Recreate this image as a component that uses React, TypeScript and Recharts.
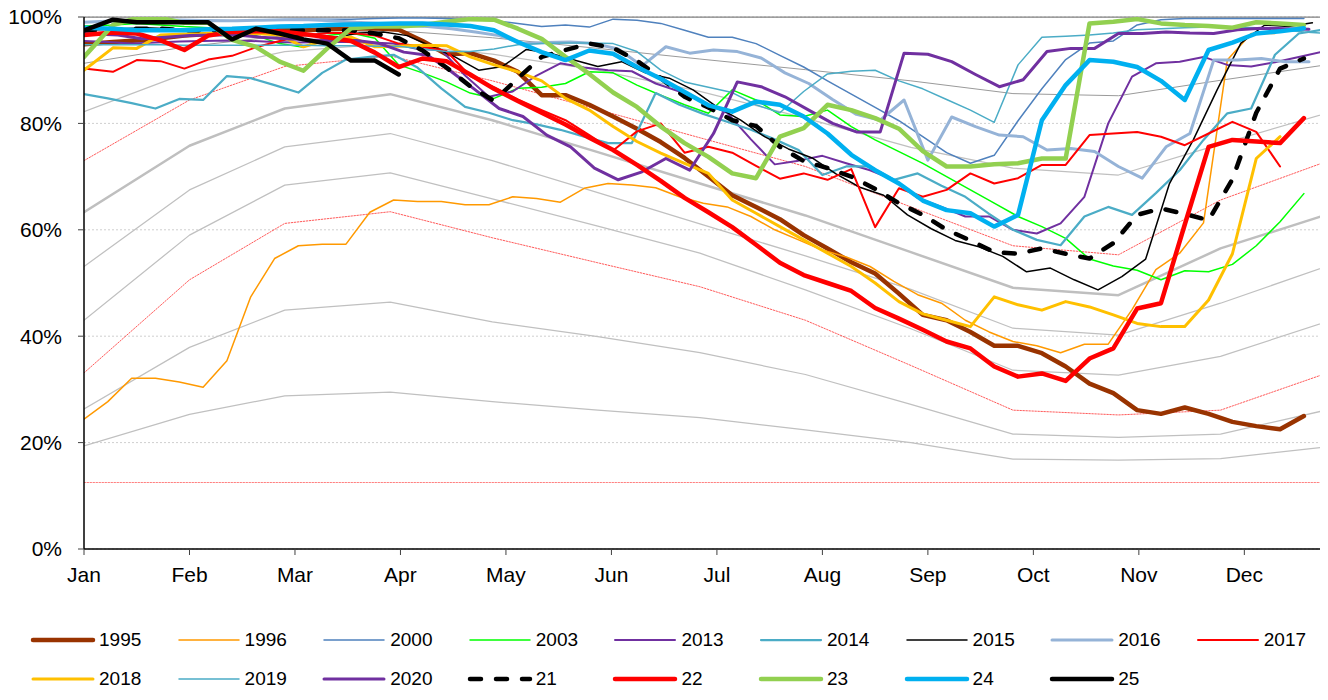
import React from 'react';
import { LineChart, Line, XAxis, YAxis, CartesianGrid, ReferenceLine } from 'recharts';

const FONT = "'Liberation Sans', Arial, sans-serif";

const monthLabels = ['Jan', 'Feb', 'Mar', 'Apr', 'May', 'Jun', 'Jul', 'Aug', 'Sep', 'Oct', 'Nov', 'Dec'];
const monthTickDays = [0, 31, 62, 93, 124, 155, 186, 217, 248, 279, 310, 341];
const yTicks = [0, 20, 40, 60, 80, 100];

// monthly statistics (grey and red dotted bands)
const statDays = [0, 31, 59, 90, 120, 151, 181, 212, 243, 273, 304, 334, 365];
const statA = [91.3, 94.5, 96.5, 97.5, 96.1, 94.1, 92.1, 90.1, 88.0, 85.6, 85.2, 88.1, 91.0];
const statB = [82.2, 89.7, 93.5, 95.0, 93.0, 90.0, 86.0, 81.0, 75.5, 71.6, 70.3, 76.1, 81.9];
const statRedHigh = [73.0, 84.4, 90.7, 92.7, 88.0, 82.6, 77.3, 71.9, 64.3, 57.0, 55.3, 65.6, 72.8];
const statMedian = [63.3, 75.8, 82.8, 85.5, 80.6, 74.6, 68.7, 62.7, 55.8, 49.1, 47.7, 56.5, 62.8];
const statC = [53.1, 67.5, 75.6, 78.1, 73.0, 67.0, 61.1, 55.1, 48.8, 41.5, 40.2, 46.2, 53.1];
const statD = [43.0, 59.0, 68.4, 70.7, 65.8, 60.7, 55.6, 48.7, 41.4, 33.6, 32.7, 36.2, 42.7];
const statRedLow = [33.1, 50.6, 61.2, 63.4, 58.5, 53.8, 49.3, 43.0, 34.5, 26.1, 25.2, 26.1, 33.0];
const statE = [26.3, 37.9, 44.9, 46.4, 42.7, 39.9, 36.9, 32.8, 27.2, 21.6, 21.0, 21.6, 26.1];
const statF = [19.4, 25.3, 28.8, 29.5, 27.7, 26.1, 24.7, 22.4, 20.0, 16.9, 16.7, 17.0, 19.2];
const thresholdDays = [0, 365];
const thresholdValues = [12.5, 12.5];

// weekly series
const y1995 = [94.9, 95.3, 95.6, 96.0, 96.5, 96.8, 97.0, 97.3, 97.5, 97.5, 97.7, 97.8, 97.9, 97.6, 95.5, 93.0, 93.2, 91.8, 89.7, 85.3, 85.3, 83.5, 81.3, 79.0, 76.5, 73.5, 70.0, 66.5, 64.3, 62.0, 59.0, 56.5, 53.9, 51.8, 48.0, 44.0, 43.0, 40.8, 38.2, 38.2, 36.8, 34.3, 31.1, 29.3, 26.1, 25.4, 26.6, 25.4, 23.9, 23.1, 22.5, 25.0];
const y1996 = [24.4, 27.7, 32.1, 32.1, 31.4, 30.4, 35.4, 47.4, 54.6, 57.0, 57.3, 57.3, 63.3, 65.6, 65.3, 65.3, 64.7, 64.7, 66.2, 65.9, 65.2, 67.8, 68.7, 68.4, 67.9, 66.2, 65.0, 64.3, 62.5, 60.0, 58.1, 56.2, 54.9, 53.1, 50.3, 47.8, 46.2, 43.0, 40.8, 39.0, 38.2, 36.9, 38.5, 38.5, 45.0, 52.5, 55.6, 61.3, 91.9, 96.9, 96.9];
const y2000 = [99.0, 99.2, 99.4, 99.5, 99.5, 99.4, 99.3, 99.4, 99.5, 99.6, 99.6, 99.6, 99.7, 99.8, 99.8, 99.7, 99.5, 99.3, 98.8, 98.2, 98.5, 98.1, 99.6, 99.4, 98.8, 97.5, 96.2, 96.2, 95.0, 92.8, 90.6, 88.0, 85.5, 83.0, 80.5, 77.5, 74.5, 72.5, 74.0, 80.5, 86.5, 92.0, 95.1, 95.5, 98.5, 99.5, 99.7, 99.7, 99.7, 99.7, 99.7, 99.7];
const y2003 = [98.3, 98.5, 98.8, 98.5, 98.2, 98.0, 97.5, 96.5, 95.0, 94.3, 96.5, 97.0, 96.0, 91.0, 89.5, 87.8, 85.7, 84.7, 86.6, 86.8, 87.5, 89.7, 89.5, 87.2, 85.3, 83.5, 81.9, 86.3, 84.4, 81.6, 81.3, 82.5, 79.4, 76.9, 74.7, 72.5, 70.0, 67.5, 65.0, 62.5, 60.6, 58.4, 54.5, 53.2, 52.4, 50.6, 52.3, 52.1, 53.5, 57.0, 61.5, 66.8];
const y2013 = [95.5, 95.3, 95.0, 95.2, 95.4, 95.5, 95.6, 95.5, 95.3, 95.2, 95.3, 95.3, 95.2, 95.0, 94.0, 93.8, 89.0, 85.0, 86.0, 89.0, 91.3, 90.5, 90.0, 89.8, 87.5, 86.0, 84.0, 82.0, 77.0, 72.3, 73.0, 73.9, 72.5, 71.2, 69.4, 66.0, 64.3, 62.5, 62.5, 60.0, 59.3, 61.2, 66.2, 80.0, 88.8, 91.3, 91.6, 92.5, 91.0, 90.7, 91.5, 92.5, 93.5];
const y2014 = [85.5, 84.7, 83.8, 82.8, 84.6, 84.4, 88.9, 88.5, 87.2, 85.8, 89.5, 92.0, 92.5, 92.9, 90.5, 86.6, 83.1, 82.0, 80.6, 79.8, 78.8, 77.5, 76.3, 76.3, 85.7, 83.5, 81.8, 80.3, 78.8, 77.0, 75.0, 70.3, 71.9, 71.9, 69.4, 70.6, 68.3, 66.2, 63.0, 60.0, 58.1, 57.1, 62.5, 64.3, 62.8, 66.9, 71.2, 76.9, 81.9, 82.8, 92.9, 96.9, 97.6];
const y2015 = [97.5, 97.8, 98.0, 97.8, 97.5, 97.5, 97.2, 96.8, 96.5, 96.5, 96.2, 97.0, 97.2, 96.5, 94.5, 92.5, 90.0, 90.7, 93.9, 93.2, 91.9, 90.7, 91.6, 89.5, 88.5, 86.3, 83.1, 80.6, 77.5, 75.2, 73.5, 70.5, 68.0, 66.5, 62.8, 60.2, 58.0, 56.8, 55.0, 52.1, 52.8, 50.6, 48.7, 51.2, 54.5, 68.7, 76.9, 86.3, 95.1, 98.5, 98.2, 98.9];
const y2016 = [99.0, 99.3, 99.5, 99.5, 99.4, 99.3, 99.3, 99.4, 99.5, 99.5, 99.3, 99.0, 98.8, 98.4, 98.2, 97.8, 97.2, 96.5, 95.0, 95.2, 95.3, 95.0, 94.0, 90.8, 94.4, 93.2, 93.8, 93.5, 92.3, 89.5, 87.5, 84.5, 81.7, 80.6, 84.4, 73.1, 81.2, 79.4, 77.8, 77.5, 75.0, 75.3, 74.7, 71.9, 69.7, 75.6, 78.1, 91.9, 91.9, 92.2, 91.6, 91.6];
const y2017 = [90.3, 89.7, 91.9, 91.7, 90.3, 92.0, 92.7, 94.3, 95.5, 96.5, 97.0, 97.0, 96.5, 95.0, 94.4, 93.6, 88.9, 86.8, 84.5, 82.5, 80.6, 77.8, 74.9, 78.5, 80.0, 74.5, 75.6, 74.5, 72.0, 69.6, 70.6, 69.4, 71.4, 60.5, 67.8, 66.2, 67.5, 70.6, 68.7, 69.7, 72.2, 72.2, 77.8, 78.1, 78.4, 77.5, 75.9, 78.1, 80.3, 78.4, 71.9];
const y2018 = [90.0, 94.2, 94.1, 96.6, 96.8, 96.9, 96.9, 96.9, 96.6, 94.4, 95.7, 96.2, 94.4, 94.5, 94.7, 94.6, 92.5, 91.0, 89.7, 88.0, 84.7, 82.5, 79.4, 76.6, 74.4, 72.5, 70.6, 65.6, 63.1, 60.6, 58.1, 55.6, 53.1, 50.0, 46.5, 44.2, 43.0, 41.8, 47.4, 45.9, 44.9, 46.5, 45.5, 44.0, 42.4, 41.8, 41.8, 46.8, 55.5, 73.4, 77.5];
const y2019 = [94.8, 94.8, 94.8, 94.8, 94.7, 94.7, 94.7, 94.7, 94.7, 94.7, 94.6, 94.6, 94.5, 94.5, 94.0, 93.5, 93.5, 94.0, 94.8, 95.0, 95.1, 95.1, 95.0, 93.5, 90.0, 87.8, 86.8, 85.8, 83.5, 82.0, 86.0, 89.3, 89.8, 90.0, 88.0, 86.5, 84.5, 82.5, 80.2, 91.0, 96.2, 96.4, 96.6, 97.0, 97.6, 97.8, 98.0, 98.1, 98.1, 98.0, 97.6, 97.2, 96.9];
const y2020 = [96.9, 96.6, 95.9, 96.2, 96.5, 96.6, 96.6, 96.2, 95.9, 95.7, 95.6, 95.6, 95.0, 93.4, 92.8, 89.7, 86.3, 82.8, 81.3, 77.8, 75.6, 71.6, 69.4, 70.9, 73.4, 71.2, 78.1, 87.8, 86.9, 85.0, 82.5, 80.0, 78.4, 78.4, 93.2, 93.0, 91.6, 89.2, 86.9, 88.2, 93.5, 94.1, 94.1, 96.9, 96.9, 97.2, 97.0, 96.9, 97.6, 97.9, 97.8, 97.7];
const y21 = [97.5, 97.6, 97.8, 97.8, 97.5, 97.5, 97.5, 97.5, 97.5, 97.5, 97.5, 97.5, 96.9, 96.0, 93.7, 90.5, 87.0, 84.2, 88.5, 92.5, 93.8, 95.0, 94.2, 91.8, 88.5, 85.0, 83.0, 80.6, 79.5, 75.6, 72.9, 71.6, 70.0, 67.7, 65.0, 62.8, 60.0, 58.0, 55.8, 55.5, 56.5, 55.5, 54.6, 57.5, 62.8, 64.0, 63.0, 61.8, 69.5, 82.0, 90.3, 92.2];
const y22 = [96.6, 97.1, 96.9, 95.6, 93.8, 96.5, 97.2, 97.3, 97.3, 96.8, 96.2, 95.5, 93.3, 90.6, 92.2, 91.7, 89.2, 86.5, 84.2, 82.0, 79.8, 77.3, 75.0, 72.2, 69.2, 66.0, 63.3, 60.5, 57.2, 53.8, 51.5, 50.0, 48.5, 45.3, 43.3, 41.2, 39.0, 37.7, 34.3, 32.4, 33.0, 31.6, 35.8, 37.7, 45.2, 46.2, 61.0, 75.6, 76.9, 76.6, 76.3, 81.0];
const y23 = [92.5, 98.5, 99.8, 99.8, 98.9, 98.9, 95.7, 94.4, 91.6, 89.9, 94.1, 97.9, 98.2, 98.2, 98.5, 99.1, 99.6, 99.5, 97.8, 95.9, 92.5, 89.3, 85.8, 83.1, 79.4, 76.3, 73.7, 70.6, 69.7, 77.5, 79.1, 83.5, 82.5, 81.0, 79.0, 74.8, 71.9, 71.9, 72.3, 72.5, 73.4, 73.4, 98.8, 99.1, 99.6, 98.8, 98.5, 98.3, 98.0, 99.0, 98.8, 98.5];
const y24 = [98.0, 97.8, 97.5, 97.5, 97.5, 97.7, 97.8, 98.0, 98.2, 98.3, 98.5, 98.6, 98.7, 98.8, 98.8, 98.6, 98.3, 97.5, 95.3, 93.4, 91.9, 93.7, 93.1, 90.6, 88.4, 85.9, 83.4, 82.2, 84.1, 83.5, 81.3, 78.1, 74.1, 71.2, 68.7, 65.5, 63.7, 63.1, 60.6, 62.8, 80.6, 87.2, 91.9, 91.6, 90.6, 88.0, 84.4, 93.8, 95.2, 96.9, 97.3, 97.9];
const y25 = [97.5, 99.5, 99.0, 99.0, 99.0, 99.0, 95.8, 97.8, 96.9, 95.8, 95.0, 91.8, 91.8, 89.2];

// first reading day of each series' weekly readings
const startDay: Record<string, number> = {
  '1995': 1.5, '1996': 0, '2000': 1.5, '2003': 1.5, '2013': 0, '2014': 0, '2015': 4, '2016': 3,
  '2017': 1.5, '2018': 1.5, '2019': 1.5, '2020': 3, '21': 1.5, '22': 1.5, '23': 1.5, '24': 1.5, '25': 1.5,
};

type Pt = { d: number; v: number };

const weekly = (name: string, values: number[]): Pt[] =>
  values.map((v, i) => ({ d: i === 0 ? 0 : startDay[name] + 7 * i, v }));

const zipPts = (days: number[], values: number[]): Pt[] => days.map((d, i) => ({ d, v: values[i] }));

interface Series {
  name: string;
  data: Pt[];
  color: string;
  width: number;
  dash?: string;
}

const statSeries: Series[] = [
  { name: 'statA', data: zipPts(statDays, statA), color: '#9A9A9A', width: 1 },
  { name: 'statB', data: zipPts(statDays, statB), color: '#C0C0C0', width: 1.25 },
  { name: 'statRedHigh', data: zipPts(statDays, statRedHigh), color: '#FF3030', width: 0.8, dash: '1.5 1.5' },
  { name: 'statMedian', data: zipPts(statDays, statMedian), color: '#BFBFBF', width: 2.5 },
  { name: 'statC', data: zipPts(statDays, statC), color: '#C0C0C0', width: 1.25 },
  { name: 'statD', data: zipPts(statDays, statD), color: '#C0C0C0', width: 1.25 },
  { name: 'statRedLow', data: zipPts(statDays, statRedLow), color: '#FF3030', width: 0.8, dash: '1.5 1.5' },
  { name: 'statE', data: zipPts(statDays, statE), color: '#C0C0C0', width: 1.25 },
  { name: 'statF', data: zipPts(statDays, statF), color: '#C0C0C0', width: 1.25 },
  { name: 'threshold', data: zipPts(thresholdDays, thresholdValues), color: '#FF6060', width: 0.8, dash: '1.5 1.5' },
];

const yearSeries: Series[] = [
  { name: '1995', data: weekly('1995', y1995), color: '#993300', width: 4.5 },
  { name: '1996', data: weekly('1996', y1996), color: '#FF9900', width: 1.5 },
  { name: '2000', data: weekly('2000', y2000), color: '#4F81BD', width: 1.5 },
  { name: '2003', data: weekly('2003', y2003), color: '#00FF00', width: 1.5 },
  { name: '2013', data: weekly('2013', y2013), color: '#7030A0', width: 2 },
  { name: '2014', data: weekly('2014', y2014), color: '#4BACC6', width: 2.25 },
  { name: '2015', data: weekly('2015', y2015), color: '#000000', width: 1.5 },
  { name: '2016', data: weekly('2016', y2016), color: '#95B3D7', width: 3 },
  { name: '2017', data: weekly('2017', y2017), color: '#FF0000', width: 2 },
  { name: '2018', data: weekly('2018', y2018), color: '#FFC000', width: 3 },
  { name: '2019', data: weekly('2019', y2019), color: '#4BACC6', width: 1.5 },
  { name: '2020', data: weekly('2020', y2020), color: '#7030A0', width: 3 },
  { name: '21', data: weekly('21', y21), color: '#000000', width: 4.5, dash: '11 15' },
  { name: '22', data: weekly('22', y22), color: '#FF0000', width: 4.5 },
  { name: '23', data: weekly('23', y23), color: '#92D050', width: 4.5 },
  { name: '24', data: weekly('24', y24), color: '#00B0F0', width: 4.5 },
  { name: '25', data: weekly('25', y25), color: '#000000', width: 4.5 },
];

const tickStyle = { fontSize: 21, fill: '#000', fontFamily: FONT };

// legend sits in the wrapper, whose top is the page top (wrapper pulled up over the body margin)
const LegendBox: React.FC = () => (
  <div style={{ position: 'absolute', left: 0, top: 0, width: 1320, height: 700, pointerEvents: 'none' }}>
    {yearSeries.map((s, idx) => {
      const col = idx % 9;
      const row = Math.floor(idx / 9);
      const left = 22 + col * 145.6;
      const top = (row === 0 ? 640 : 679) - 12;
      return (
        <div key={s.name} style={{ position: 'absolute', left, top, height: 24, display: 'flex', alignItems: 'center' }}>
          <svg width={66} height={24} style={{ display: 'block' }}>
            <line
              x1={3}
              x2={63}
              y1={12}
              y2={12}
              stroke={s.color}
              strokeWidth={s.width}
              strokeDasharray={s.dash}
              strokeLinecap="round"
            />
          </svg>
          <span style={{ marginLeft: 3, fontFamily: FONT, fontSize: 19, color: '#000', lineHeight: '24px' }}>{s.name}</span>
        </div>
      );
    })}
  </div>
);

export default function App() {
  return (
    <div style={{ position: 'relative', width: 1320, height: 692, marginTop: -8 }}>
      <LineChart width={1320} height={608} margin={{ top: 17, right: 2, bottom: 19, left: 0 }}>
        <CartesianGrid vertical={false} stroke="#CFCFCF" strokeDasharray="2 2" />
        <XAxis
          dataKey="d"
          type="number"
          domain={[0, 365]}
          allowDataOverflow
          ticks={monthTickDays}
          interval={0}
          tickFormatter={(v: number) => monthLabels[monthTickDays.indexOf(v)] ?? ''}
          tick={tickStyle}
          tickSize={6}
          tickMargin={12}
          height={40}
          axisLine={{ stroke: '#000', strokeWidth: 1.5 }}
          tickLine={{ stroke: '#404040' }}
        />
        <YAxis
          type="number"
          domain={[0, 100]}
          allowDataOverflow
          ticks={yTicks}
          interval={0}
          tickFormatter={(v: number) => `${v}%`}
          tick={tickStyle}
          tickSize={6}
          tickMargin={16}
          width={76}
          axisLine={{ stroke: '#000', strokeWidth: 1.5 }}
          tickLine={{ stroke: '#404040' }}
        />
        <ReferenceLine y={100} stroke="#808080" strokeWidth={1.25} />
        <ReferenceLine x={365} stroke="#808080" strokeWidth={1.25} />
        {[...statSeries, ...yearSeries].map((s) => (
          <Line
            key={s.name}
            data={s.data}
            dataKey="v"
            name={s.name}
            type="linear"
            stroke={s.color}
            strokeWidth={s.width}
            strokeDasharray={s.dash}
            strokeLinecap="round"
            strokeLinejoin="round"
            dot={false}
            activeDot={false}
            isAnimationActive={false}
          />
        ))}
      </LineChart>
      <LegendBox />
    </div>
  );
}
